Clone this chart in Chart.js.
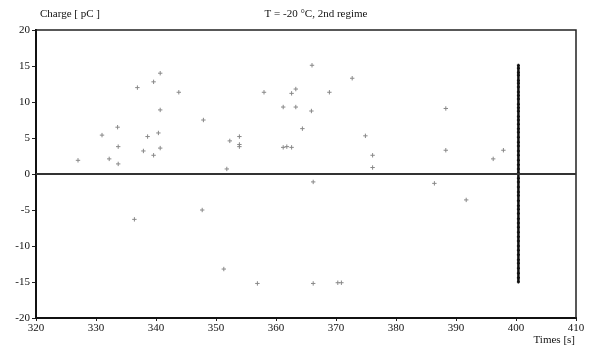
<!DOCTYPE html>
<html>
<head>
<meta charset="utf-8">
<script src="https://cdn.jsdelivr.net/npm/chart.js@4/dist/chart.umd.min.js"></script>
<style>
  html, body { margin: 0; padding: 0; background: #fff; }
  #wrap { width: 592px; height: 345px; }
</style>
</head>
<body>
<div id="wrap"><canvas id="chart-charge"></canvas></div>
<script>
// scattered discharges (time in s, charge in pC)
const scatterTimes = [327, 331, 332.2, 333.6, 333.7, 333.7, 336.4, 336.9, 337.9, 338.6, 339.6, 339.6,
    340.4, 340.7, 340.7, 340.7, 343.8, 347.9, 347.7, 351.3, 351.8, 352.3, 353.9, 353.9, 353.9,
    356.9, 358, 361.2, 361.8, 362.6, 361.2, 363.3, 362.6, 363.3, 365.9, 364.4, 366, 366.2, 366.2,
    368.9, 370.3, 370.9, 372.7, 374.9, 376.1, 376.1, 386.4, 388.3, 388.3, 391.7, 396.2, 397.9];
const scatterCharges = [1.9, 5.4, 2.1, 6.5, 3.8, 1.4, -6.3, 12, 3.2, 5.2, 12.8, 2.6,
    5.7, 14, 8.9, 3.6, 11.35, 7.5, -5, -13.2, 0.7, 4.6, 5.2, 4.1, 3.8,
    -15.2, 11.35, 3.7, 3.8, 3.7, 9.3, 9.3, 11.2, 11.8, 8.75, 6.3, 15.1, -1.1, -15.2,
    11.35, -15.1, -15.1, 13.3, 5.3, 2.6, 0.9, -1.3, 9.1, 3.3, -3.6, 2.1, 3.3];

// dense burst near t = 400.4 s
const burstTime = 400.4;
const burstCharges = [15.1, 14.7, 14.1, 13.7, 13.0, 12.6, 12.1, 11.4, 10.9, 10.4, 9.7, 9.2, 8.7,
    8.0, 7.5, 6.9, 6.3, 5.8, 5.1, 4.4, 3.9, 3.2, 2.6, 1.9, 1.3, 0.7, 0.1, -0.6, -1.1, -1.8,
    -2.5, -3.0, -3.7, -4.4, -4.9, -5.5, -6.2, -6.8, -7.4, -8.1, -8.7, -9.3, -10.0, -10.6,
    -11.2, -11.9, -12.4, -13.1, -13.8, -14.4, -15.0];

const xTicks = [320, 330, 340, 350, 360, 370, 380, 390, 400, 410];
const yTicks = [-20, -15, -10, -5, 0, 5, 10, 15, 20];

const titleText = 'T = -20 \u00B0C, 2nd regime';
const yLabel = 'Charge [ pC ]';
const xLabel = 'Times [s]';

const serif = '"Liberation Serif", "DejaVu Serif", serif';

const framePlugin = {
    id: 'frame',
    afterDatasetsDraw(chart) {
        const ctx = chart.ctx;
        const a = chart.chartArea;
        const y0 = chart.scales.y.getPixelForValue(0);
        ctx.save();
        ctx.strokeStyle = '#222';
        ctx.lineWidth = 1.5;
        ctx.beginPath();
        ctx.moveTo(a.left, a.top);
        ctx.lineTo(a.right, a.top);
        ctx.lineTo(a.right, a.bottom);
        ctx.stroke();
        ctx.strokeStyle = '#333';
        ctx.lineWidth = 2;
        ctx.beginPath();
        ctx.moveTo(a.left, y0);
        ctx.lineTo(a.right, y0);
        ctx.stroke();

        ctx.fillStyle = '#111';
        ctx.font = '11px ' + serif;
        ctx.textBaseline = 'middle';
        ctx.textAlign = 'left';
        ctx.fillText(yLabel, 40, 14);
        ctx.textAlign = 'center';
        ctx.fillText(titleText, 316, 14);
        ctx.textAlign = 'right';
        ctx.fillText(xLabel, 575, 340);
        ctx.restore();
    }
};

function toPoints(xs, ys) {
    return xs.map((x, i) => ({ x: x, y: ys[i] }));
}

const chartCharge = new Chart(document.getElementById('chart-charge'), {
    type: 'scatter',
    data: {
        datasets: [
            {
                label: 'scattered',
                data: toPoints(scatterTimes, scatterCharges),
                pointStyle: 'cross',
                radius: 2.2,
                borderWidth: 1,
                borderColor: '#888',
                backgroundColor: '#888'
            },
            {
                label: 'burst',
                data: burstCharges.map(c => ({ x: burstTime, y: c })),
                showLine: true,
                pointStyle: 'cross',
                radius: 1.5,
                pointBorderWidth: 1.5,
                borderWidth: 2.5,
                borderColor: '#111',
                backgroundColor: '#111'
            }
        ]
    },
    options: {
        responsive: true,
        maintainAspectRatio: false,
        animation: false,
        layout: { padding: { left: 0, top: 30, right: 16, bottom: 0 } },
        plugins: { legend: { display: false }, tooltip: { enabled: false } },
        scales: {
            x: {
                type: 'linear',
                min: 320,
                max: 410,
                afterBuildTicks: axis => { axis.ticks = xTicks.map(v => ({ value: v })); },
                afterFit: axis => { axis.height = 27; },
                grid: { drawOnChartArea: false, drawTicks: true, tickLength: 3, color: '#222' },
                border: { color: '#111', width: 2 },
                ticks: { color: '#111', padding: 1, maxRotation: 0, font: { family: serif, size: 11 } }
            },
            y: {
                type: 'linear',
                min: -20,
                max: 20,
                afterBuildTicks: axis => { axis.ticks = yTicks.map(v => ({ value: v })); },
                afterFit: axis => { axis.width = 36; },
                grid: { drawOnChartArea: false, drawTicks: true, tickLength: 4, color: '#222' },
                border: { color: '#111', width: 2 },
                ticks: { color: '#111', padding: 2, font: { family: serif, size: 11 } }
            }
        }
    },
    plugins: [framePlugin]
});
</script>
</body>
</html>
